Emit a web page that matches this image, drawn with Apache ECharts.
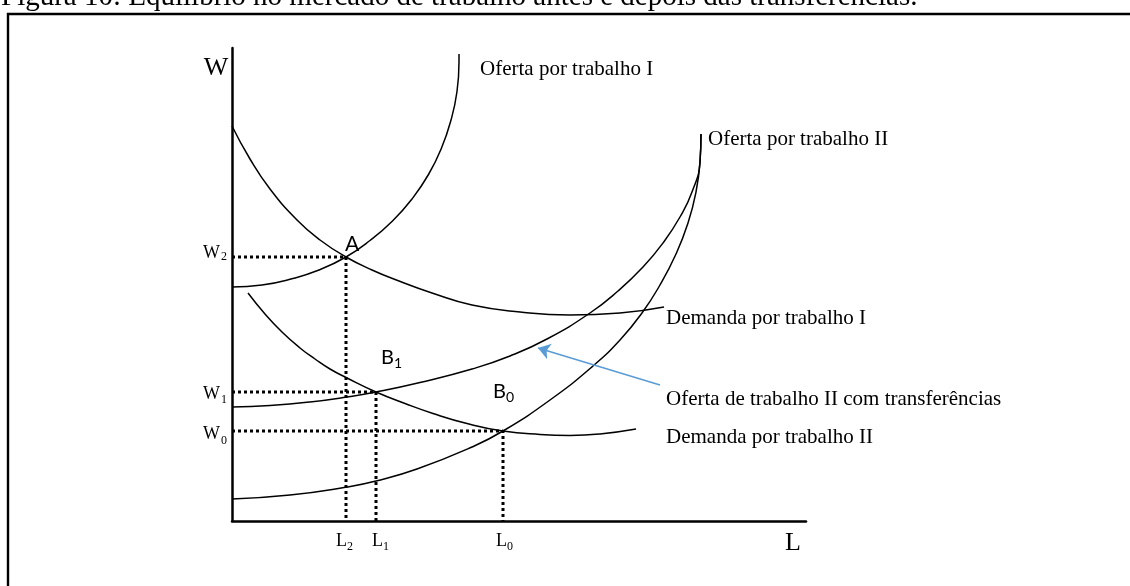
<!DOCTYPE html>
<html>
<head>
<meta charset="utf-8">
<script src="https://cdn.jsdelivr.net/npm/echarts@6/dist/echarts.min.js"></script>
<style>
  html, body { margin: 0; padding: 0; background: #fff; }
  #chart { width: 1130px; height: 586px; }
</style>
</head>
<body>
<div id="chart"></div>
<script>
const SERIF = '"Liberation Serif", "Times New Roman", serif';
const SANS = 'Lato, "Open Sans", sans-serif';

// eixos em unidades arbitrárias: L na horizontal, W na vertical
const eixoL = [0, 574];
const eixoW = [0, 473];

// curvas, pares [L, W]
const ofertaI = [[0, 234], [30, 236], [59, 242], [87, 251], [114, 264], [138, 280.5], [160.5, 300], [180, 322], [196.5, 346.5], [209.5, 373], [219, 401], [225, 429.5], [227, 459], [227, 467]];
const demandaI = [[0, 395], [18, 362], [38, 332], [65, 301], [88, 281], [114, 264], [140, 251], [167, 240], [200, 228], [240, 216], [288, 209], [338, 206], [388, 208], [432, 214]];
const ofertaIIComTransf = [[0, 114], [38, 115.5], [78, 119], [115, 124], [144, 129], [188, 138.5], [240, 152], [278, 165], [315, 182], [358, 208], [386, 230], [411, 254], [431, 278], [448, 304], [460, 329], [468, 359], [469, 387]];
const ofertaII = [[0, 22], [58, 26], [115, 34], [144, 40], [185, 52], [240, 74], [271, 90], [318, 121], [361, 155], [388, 181], [410, 208], [428, 236], [444, 267], [456, 298], [464, 329], [468, 359], [469, 387]];
const demandaII = [[16, 228], [33, 207], [50, 189], [68, 173], [83, 162], [98, 152], [115, 143], [144, 129], [173, 117.5], [201, 107.5], [235, 97.5], [271, 90], [308, 86.5], [338, 85.5], [368, 87], [404, 92]];

// equilíbrios
const pontoA = [114, 264];
const pontoB1 = [144, 129];
const pontoB0 = [271, 90];

// seta azul (de -> para)
const seta = [[428, 136], [306, 173]];

const titulo = "Figura 10: Equilíbrio no mercado de trabalho antes e depois das transferências.";
const nomesCurvas = [
  "Oferta por trabalho I",
  "Oferta por trabalho II",
  "Demanda por trabalho I",
  "Oferta de trabalho II com transferências",
  "Demanda por trabalho II",
];

function curva(name, data) {
  return {
    name, type: "line", data, smooth: 0.5, showSymbol: false, clip: false,
    lineStyle: { color: "#000", width: 1.5 }, silent: true, z: 3,
  };
}

function tracejado(p) {
  return {
    type: "line", data: [[0, p[1]], p, [p[0], 0]], showSymbol: false, clip: false, silent: true,
    lineStyle: { color: "#000", width: 3, type: [3, 3], cap: "butt" }, z: 2,
  };
}

function texto(text, x, y, size, family, align) {
  return {
    type: "text", x, y, silent: true,
    style: { text, fill: "#000", fontSize: size, fontFamily: family, align: align || "left", verticalAlign: "middle" },
  };
}

// letra com índice
function indice(main, sub, x, y, size, subSize, family, dx, dy) {
  return [texto(main, x, y, size, family), texto(sub, x + dx, y + dy, subSize, family)];
}

const chart = echarts.init(document.getElementById("chart"), null, { renderer: "canvas" });

chart.setOption({
  animation: false,
  backgroundColor: "#fff",
  grid: { left: 232, top: 48, width: 574, height: 473, containLabel: false },
  xAxis: {
    type: "value", min: eixoL[0], max: eixoL[1],
    axisLine: { show: true, onZero: false, lineStyle: { color: "#000", width: 2.5 } },
    axisTick: { show: false }, axisLabel: { show: false }, splitLine: { show: false },
  },
  yAxis: {
    type: "value", min: eixoW[0], max: eixoW[1],
    axisLine: { show: true, onZero: false, lineStyle: { color: "#000", width: 2.5 } },
    axisTick: { show: false }, axisLabel: { show: false }, splitLine: { show: false },
  },
  series: [
    curva(nomesCurvas[0], ofertaI),
    curva(nomesCurvas[1], ofertaII),
    curva(nomesCurvas[2], demandaI),
    curva(nomesCurvas[3], ofertaIIComTransf),
    curva(nomesCurvas[4], demandaII),
    tracejado(pontoA),
    tracejado(pontoB1),
    tracejado(pontoB0),
    {
      type: "lines", coordinateSystem: "cartesian2d", silent: true, z: 4,
      symbol: ["none", "arrow"], symbolSize: 12,
      lineStyle: { color: "#5b9bd5", width: 1.5, opacity: 1, curveness: 0 },
      data: [{ coords: seta }],
    },
  ],
  graphic: [
    { type: "rect", silent: true, shape: { x: 8, y: 14, width: 1300, height: 700 }, style: { fill: null, stroke: "#000", lineWidth: 2.4 } },
    texto(titulo, 1, -3, 29, SERIF),
    texto("W", 216, 68, 26, SERIF, "center"),
    texto("L", 793, 543, 26, SERIF, "center"),
    ...indice("W", "2", 203, 253, 18, 12, SERIF, 18, 4),
    ...indice("W", "1", 203, 394, 18, 12, SERIF, 18, 6),
    ...indice("W", "0", 203, 434, 18, 12, SERIF, 18, 7),
    ...indice("L", "2", 336, 541, 18, 12, SERIF, 11, 6),
    ...indice("L", "1", 372, 541, 18, 12, SERIF, 11, 6),
    ...indice("L", "0", 496, 541, 18, 12, SERIF, 11, 6),
    texto("A", 345, 244, 21, SANS),
    ...indice("B", "1", 381, 358, 20, 14, SANS, 13, 5),
    ...indice("B", "0", 493, 392, 20, 14, SANS, 13, 5),
    texto(nomesCurvas[0], 480, 69, 21, SERIF),
    texto(nomesCurvas[1], 708, 139, 21, SERIF),
    texto(nomesCurvas[2], 666, 318, 21, SERIF),
    texto(nomesCurvas[3], 666, 399, 21, SERIF),
    texto(nomesCurvas[4], 666, 437, 21, SERIF),
  ],
});
</script>
</body>
</html>
